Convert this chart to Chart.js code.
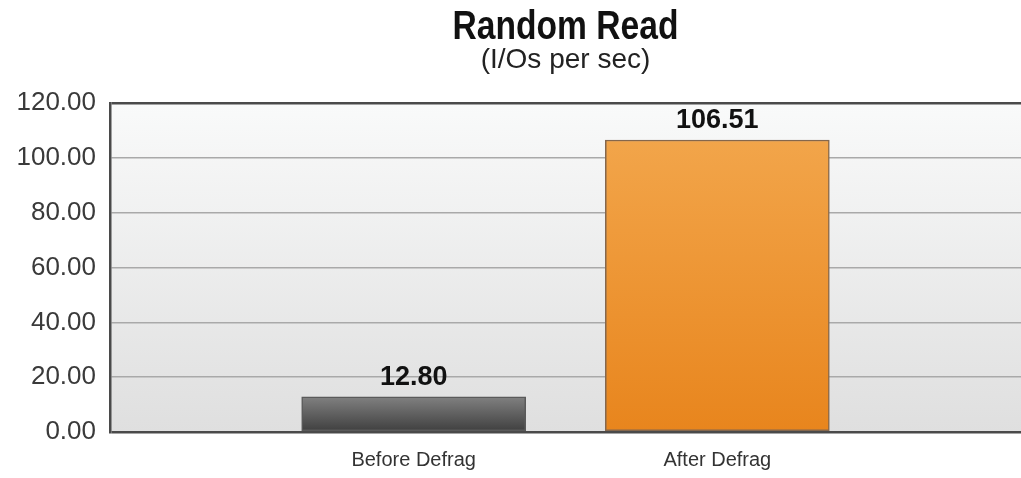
<!DOCTYPE html>
<html>
<head>
<meta charset="utf-8">
<script src="https://cdn.jsdelivr.net/npm/chart.js@4/dist/chart.umd.min.js"></script>
<style>
  html, body { margin: 0; padding: 0; background: #fff; }
  #wrap { width: 1021px; height: 478px; }
</style>
</head>
<body>
<div id="wrap"><canvas id="myChart"></canvas></div>
<script>
// values
var titleText = 'Random Read';
var subtitleText = '(I/Os per sec)';
var categories = ['', 'Before Defrag', 'After Defrag', ''];
var ioValues = [null, 12.80, 106.51, null];
var yMin = 0, yMax = 120, yStep = 20;

var barTop = ['#808080', '#808080', '#f2a54a', '#f2a54a'];
var barBottom = ['#3e3e3e', '#3e3e3e', '#e8851d', '#e8851d'];
var barEdge = ['#5a5a5a', '#5a5a5a', '#85674c', '#85674c'];

function barFill(ctx) {
  var chart = ctx.chart;
  var area = chart.chartArea;
  var v = ctx.raw;
  if (!area || v == null) return barBottom[ctx.dataIndex];
  var top = chart.scales.y.getPixelForValue(v);
  var g = chart.ctx.createLinearGradient(0, top, 0, area.bottom);
  g.addColorStop(0, barTop[ctx.dataIndex]);
  g.addColorStop(1, barBottom[ctx.dataIndex]);
  return g;
}

var plotBg = {
  id: 'plotBg',
  beforeDraw: function (chart) {
    var a = chart.chartArea, c = chart.ctx;
    var g = c.createLinearGradient(0, a.top, 0, a.bottom);
    g.addColorStop(0, '#f9fafa');
    g.addColorStop(1, '#dfdfdf');
    c.save();
    c.fillStyle = g;
    c.fillRect(a.left, a.top, a.right - a.left, a.bottom - a.top);
    c.restore();
  }
};

var titles = {
  id: 'titles',
  afterDraw: function (chart) {
    var a = chart.chartArea, c = chart.ctx;
    var cx = (a.left + a.right) / 2;
    c.save();
    c.textAlign = 'center';
    c.textBaseline = 'alphabetic';
    // condensed heavy title
    c.save();
    c.translate(cx, 39);
    c.scale(0.84, 1);
    c.fillStyle = '#111';
    c.font = 'bold 40px "Liberation Sans", Arial, sans-serif';
    c.fillText(titleText, 0, 0);
    c.restore();
    c.fillStyle = '#222';
    c.font = '28px "Liberation Sans", Arial, sans-serif';
    c.fillText(subtitleText, cx, 68);
    c.restore();
  }
};

var valueLabels = {
  id: 'valueLabels',
  afterDatasetsDraw: function (chart) {
    var c = chart.ctx;
    var meta = chart.getDatasetMeta(0);
    c.save();
    c.textAlign = 'center';
    c.textBaseline = 'alphabetic';
    c.fillStyle = '#111';
    c.font = 'bold 27px "Liberation Sans", Arial, sans-serif';
    meta.data.forEach(function (el, i) {
      var v = ioValues[i];
      if (v == null) return;
      c.fillText(v.toFixed(2), el.x, el.y - 12);
    });
    c.restore();
  }
};

var ctx = document.getElementById('myChart').getContext('2d');
var config = {
  type: 'bar',
  data: {
    labels: categories,
    datasets: [{
      data: ioValues,
      backgroundColor: barFill,
      borderColor: barEdge,
      borderWidth: 1.5,
      borderSkipped: false,
      barThickness: 224
    }]
  },
  options: {
    responsive: true,
    maintainAspectRatio: false,
    animation: false,
    layout: { padding: { top: 103, right: 0, left: 0, bottom: 0 } },
    plugins: {
      legend: { display: false },
      tooltip: { enabled: false }
    },
    scales: {
      x: {
        offset: false,
        grid: { display: false, drawTicks: true, tickLength: 16 },
        border: { display: false },
        ticks: {
          color: '#333',
          padding: 0,
          maxRotation: 0,
          autoSkip: false,
          font: { family: '"Liberation Sans", Arial, sans-serif', size: 20 }
        },
        afterFit: function (s) { s.height = 46; }
      },
      y: {
        min: yMin,
        max: yMax,
        grid: {
          drawTicks: false,
          color: function (c) {
            var v = c.tick.value;
            return (v === yMin || v === yMax) ? '#4a4a4a' : '#a9a9a9';
          },
          lineWidth: function (c) {
            var v = c.tick.value;
            return (v === yMin || v === yMax) ? 2.5 : 1.5;
          }
        },
        border: { display: true, color: '#4a4a4a', width: 2.5 },
        ticks: {
          stepSize: yStep,
          color: '#3a3a3a',
          padding: 14,
          font: { family: '"Liberation Sans", Arial, sans-serif', size: 26 },
          callback: function (v) { return Number(v).toFixed(2); }
        },
        afterFit: function (s) { s.width = 110; }
      }
    }
  },
  plugins: [plotBg, titles, valueLabels]
};

var chart = new Chart(ctx, config);
</script>
</body>
</html>
